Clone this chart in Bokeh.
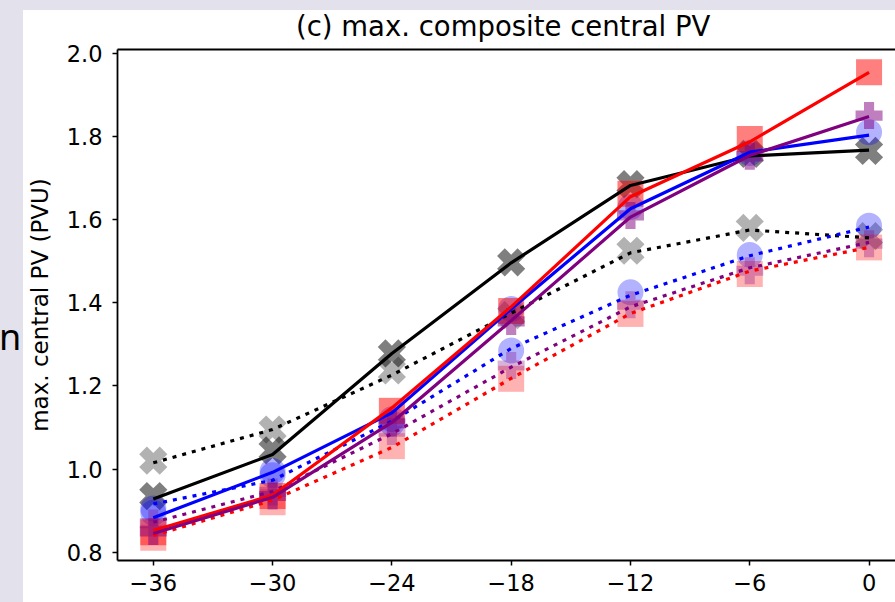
import math
from bokeh.plotting import figure
from bokeh.models import Range1d, LinearAxis, FixedTicker, Div, Row, Column
from bokeh.embed import file_html
from bokeh.resources import INLINE

# ---------------- data ----------------
lead_hours = [-36, -30, -24, -18, -12, -6, 0]
x_tick_labels = ["\u221236", "\u221230", "\u221224", "\u221218", "\u221212", "\u22126", "0"]
y_ticks = [0.8, 1.0, 1.2, 1.4, 1.6, 1.8, 2.0]
y_tick_labels = ["0.8", "1.0", "1.2", "1.4", "1.6", "1.8", "2.0"]

# lines
black_solid = [0.928, 1.035, 1.278, 1.496, 1.682, 1.753, 1.767]
black_dotted = [1.015, 1.095, 1.226, 1.375, 1.520, 1.575, 1.556]
blue_solid = [0.883, 0.992, 1.135, 1.385, 1.626, 1.762, 1.803]
blue_dotted = [0.916, 0.973, 1.115, 1.290, 1.418, 1.513, 1.582]
red_solid = [0.852, 0.937, 1.147, 1.390, 1.655, 1.787, 1.954]
red_dotted = [0.840, 0.925, 1.052, 1.218, 1.374, 1.476, 1.533]
purple_solid = [0.845, 0.932, 1.112, 1.357, 1.606, 1.754, 1.848]
purple_dotted = [0.872, 0.946, 1.085, 1.245, 1.390, 1.484, 1.545]

# markers
black_solid_mk = [0.935, 1.045, 1.278, 1.497, 1.685, 1.758, 1.765]
black_dotted_mk = [1.020, 1.095, 1.237, 1.370, 1.525, 1.580, 1.560]
blue_solid_mk = [0.895, 0.995, 1.120, 1.385, 1.630, 1.760, 1.810]
blue_dotted_mk = [0.905, 0.985, 1.110, 1.285, 1.425, 1.515, 1.585]
red_solid_mk = [0.848, 0.935, 1.140, 1.380, 1.662, 1.794, 1.954]
red_dotted_mk = [0.835, 0.920, 1.055, 1.217, 1.373, 1.469, 1.533]
purple_solid_mk = [0.850, 0.935, 1.110, 1.355, 1.610, 1.752, 1.850]
purple_dotted_mk = [0.870, 0.945, 1.090, 1.249, 1.395, 1.477, 1.542]

title_text = "(c) max. composite central PV"
y_label = "max. central PV (PVU)"
side_text = "n"

FONT = "DejaVu Sans"
BG = "#e3e1ec"

p = figure(width=872, height=566, output_backend="svg", toolbar_location=None,
           x_range=Range1d(-37.8, 1.33), y_range=Range1d(0.78, 2.009),
           min_border_left=94, min_border_right=0, min_border_top=13, min_border_bottom=42,
           margin=(0, 0, 0, 0))
p.outline_line_color = None
p.background_fill_color = "white"
p.border_fill_color = None
p.grid.visible = False

# axes
for ax in (p.xaxis[0], p.yaxis[0]):
    ax.axis_line_width = 1.8
    ax.axis_line_color = "black"
    ax.major_tick_line_width = 1.5
    ax.major_tick_line_color = "black"
    ax.major_tick_out = 5
    ax.major_tick_in = 0
    ax.minor_tick_out = 0
    ax.minor_tick_in = 0
    ax.major_label_text_font = FONT
    ax.major_label_text_font_size = "22.5px"
    ax.major_label_text_color = "black"
    ax.major_label_standoff = 8

p.xaxis.ticker = FixedTicker(ticks=lead_hours)
p.xaxis.major_label_overrides = dict(zip(lead_hours, x_tick_labels))
p.yaxis.ticker = FixedTicker(ticks=y_ticks)
p.yaxis.major_label_overrides = dict(zip(y_ticks, y_tick_labels))
p.yaxis.major_label_standoff = 10
p.yaxis.axis_label = y_label
p.yaxis.axis_label_text_font = FONT
p.yaxis.axis_label_text_font_size = "23px"
p.yaxis.axis_label_text_font_style = "normal"
p.yaxis.axis_label_text_color = "black"
p.yaxis.axis_label_standoff = 11

top_axis = LinearAxis(ticker=FixedTicker(ticks=[]), major_label_text_font_size="0px",
                      major_label_standoff=0,
                      major_tick_out=0, major_tick_in=0, minor_tick_out=0, minor_tick_in=0,
                      axis_line_width=1.8, axis_line_color="black")
p.add_layout(top_axis, "above")

# markers
MS = 26
XANG = math.pi / 4
series = [
    ("black", "plus", XANG, black_solid_mk, 0.5, black_dotted_mk, 0.3),
    ("blue", "circle", 0.0, blue_solid_mk, 0.3, blue_dotted_mk, 0.3),
    ("red", "square", 0.0, red_solid_mk, 0.5, red_dotted_mk, 0.3),
    ("purple", "plus", 0.0, purple_solid_mk, 0.5, purple_dotted_mk, 0.3),
]
for color, mk, ang, solid_mk, a1, dotted_mk, a2 in series:
    size = 29 if ang else (27 if mk == "plus" else MS)
    p.scatter(lead_hours, dotted_mk, marker=mk, angle=ang, size=size,
              fill_color=color, fill_alpha=a2, line_color=None)
    p.scatter(lead_hours, solid_mk, marker=mk, angle=ang, size=size,
              fill_color=color, fill_alpha=a1, line_color=None)

# lines
LW = 3.2
for color, ys in (("black", black_dotted), ("blue", blue_dotted),
                  ("purple", purple_dotted), ("red", red_dotted)):
    p.line(lead_hours, ys, line_color=color, line_width=LW, line_dash="4 6", line_cap="butt")
for color, ys in (("black", black_solid), ("blue", blue_solid),
                  ("red", red_solid), ("purple", purple_solid)):
    p.line(lead_hours, ys, line_color=color, line_width=LW)

# title strip above the figure (its descenders show through the transparent figure border)
title_div = Div(text=('<div style="position:relative; left:273px; top:3px; white-space:nowrap; '
                      'font-family:\'DejaVu Sans\'; font-size:27.5px; line-height:27.5px; color:black;">'
                      + title_text + '</div>'),
                width=872, height=26, margin=(0, 0, 0, 0),
                styles={"overflow": "visible"})

# slide strip on the left with the slide letter
side = Div(text=('<div style="position:relative; top:317px; left:-1px; '
                 'font-family:\'Noto Sans\'; font-size:36px; line-height:40px; color:black;">'
                 + side_text + '</div>'),
           width=23, height=602, margin=(0, 0, 0, 0),
           styles={"background-color": BG, "overflow": "hidden"})

right = Column(children=[title_div, p], width=872, height=592, spacing=0, margin=(10, 0, 0, 0),
               styles={"background-color": "white"})
layout = Row(children=[side, right], width=895, height=602, spacing=0,
             styles={"background-color": BG})

open("out.html", "w").write(file_html(layout, INLINE))
